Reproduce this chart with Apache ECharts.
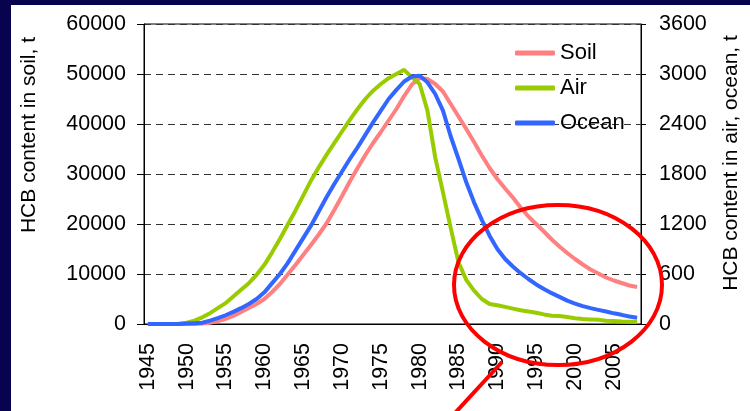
<!DOCTYPE html>
<html>
<head>
<meta charset="utf-8">
<script src="https://cdn.jsdelivr.net/npm/echarts@6/dist/echarts.min.js"></script>
<style>html,body{margin:0;padding:0;background:#fff}#c{width:750px;height:411px}</style>
</head>
<body>
<div id="c"></div>
<script>
var years = [];
for (var y = 1945; y <= 2008; y++) years.push(String(y));

var soil = [0,0,0,0,0,0,0,100,250,600,1000,1600,2400,3200,4000,5000,6400,8000,9900,11800,
  13800,15800,17900,20100,22800,25600,28500,31200,33800,36200,38400,40700,43000,45600,47900,49200,49000,48000,46500,44000,
  41500,39000,36400,33700,31200,29000,27100,25300,23300,21500,20000,18500,16900,15500,14200,13000,11900,10900,10100,9300,
  8700,8200,7700,7400];
var air = [0,0,0,0,4,15,40,80,130,190,250,330,410,490,590,710,860,1020,1190,1360,
  1540,1720,1880,2030,2170,2310,2450,2580,2700,2800,2880,2950,3000,3050,2960,2880,2560,2000,1580,1150,
  740,530,400,300,240,225,205,185,165,150,135,115,100,95,85,70,60,55,50,40,
  35,30,28,25];
var ocean = [0,0,0,0,0,5,10,15,40,70,105,145,190,240,300,380,490,600,730,880,
  1030,1180,1350,1520,1680,1830,1980,2120,2270,2420,2560,2700,2810,2910,2970,2980,2900,2760,2560,2250,
  1980,1700,1460,1250,1060,900,780,690,610,540,475,420,370,325,280,245,215,190,170,150,
  128,110,90,75];

var seriesNames = ['Soil','Air','Ocean'];
var colors = ['#ff8080','#99cc00','#3366ff'];
var leftTitle = 'HCB content in soil, t';
var rightTitle = 'HCB content in air, ocean, t';

var font = 'Liberation Sans, Arial, sans-serif';
var plain = function (v) { return String(v); };
var chart = echarts.init(document.getElementById('c'), null, {renderer:'canvas'});
chart.setOption({
  backgroundColor: '#ffffff',
  animation: false,
  grid: {left:144, right:109, top:24, bottom:87, show:true, borderColor:'#000', borderWidth:1, backgroundColor:'transparent'},
  legend: {
    orient:'vertical', left:510, top:37, padding:5, itemGap:13, itemWidth:40, itemHeight:5, icon:'roundRect',
    textStyle:{fontFamily:font, fontSize:22, color:'#000'},
    data: seriesNames
  },
  xAxis: {
    type:'category', data: years, boundaryGap:true,
    axisLine:{lineStyle:{color:'#000', width:1}},
    axisTick:{interval:0, length:7, lineStyle:{color:'#000'}},
    axisLabel:{interval:4, rotate:90, margin:19, fontFamily:font, fontSize:21.5, color:'#000'},
    splitLine:{show:false}
  },
  yAxis: [
    {type:'value', min:0, max:60000, interval:10000, position:'left',
     axisLine:{show:true, lineStyle:{color:'#000'}},
     axisTick:{show:true, length:7, lineStyle:{color:'#000'}},
     axisLabel:{margin:18, fontFamily:font, fontSize:21.5, color:'#000', formatter:plain},
     splitLine:{show:true, lineStyle:{color:'#333', type:[7,5], width:1}}},
    {type:'value', min:0, max:3600, interval:600, position:'right',
     axisLine:{show:true, lineStyle:{color:'#000'}},
     axisTick:{show:true, length:5, lineStyle:{color:'#000'}},
     axisLabel:{margin:18, fontFamily:font, fontSize:21.5, color:'#000', formatter:plain},
     splitLine:{show:false}}
  ],
  series: [
    {name:seriesNames[0], type:'line', data:soil, yAxisIndex:0, showSymbol:false, color:colors[0], lineStyle:{width:4, color:colors[0]}},
    {name:seriesNames[1], type:'line', data:air, yAxisIndex:1, showSymbol:false, color:colors[1], lineStyle:{width:4, color:colors[1]}},
    {name:seriesNames[2], type:'line', data:ocean, yAxisIndex:1, showSymbol:false, color:colors[2], lineStyle:{width:4, color:colors[2]}}
  ],
  graphic: [
    {type:'rect', left:0, top:0, shape:{width:11, height:411}, style:{fill:'#07034f'}, z:100},
    {type:'rect', left:0, top:0, shape:{width:750, height:5}, style:{fill:'#07034f'}, z:100},
    {type:'text', x:29, y:135, rotation:Math.PI/2, style:{text:leftTitle, fontFamily:font, fontSize:21, fill:'#000', textAlign:'center', textVerticalAlign:'middle'}},
    {type:'text', x:731, y:163, rotation:Math.PI/2, style:{text:rightTitle, fontFamily:font, fontSize:21, fill:'#000', textAlign:'center', textVerticalAlign:'middle'}},
    {type:'ellipse', shape:{cx:558, cy:285, rx:104, ry:80}, style:{fill:null, stroke:'#ff0000', lineWidth:4}, z:50},
    {type:'line', shape:{x1:455, y1:413, x2:502, y2:362}, style:{stroke:'#ff0000', lineWidth:4}, z:50}
  ]
});
</script>
</body>
</html>
